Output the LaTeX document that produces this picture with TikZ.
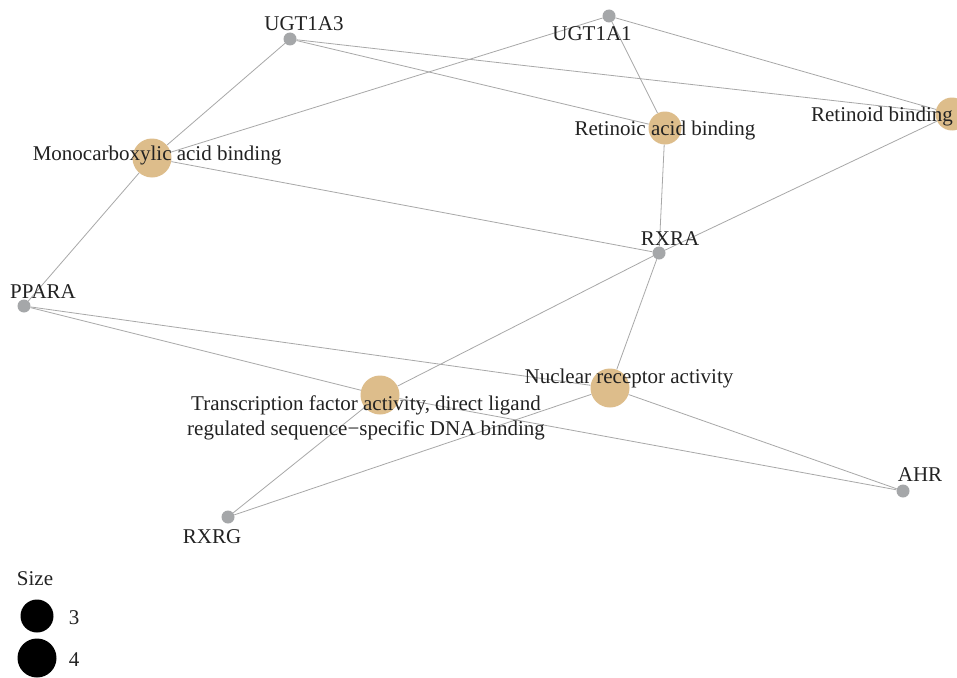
\documentclass[tikz,border=0pt]{standalone}
\usepackage{fontspec}
\setmainfont{Liberation Serif}
\definecolor{tan}{HTML}{DDBD8B}
\definecolor{dotgray}{HTML}{A5A7A9}
\definecolor{edgegray}{HTML}{A8A8A8}
\definecolor{txt}{HTML}{222222}
\begin{document}
\begin{tikzpicture}[x=1pt,y=-1pt,
  gene/.style={circle,fill=dotgray,inner sep=0pt,minimum size=13pt},
  term3/.style={circle,fill=tan,inner sep=0pt,minimum size=33pt},
  term4/.style={circle,fill=tan,inner sep=0pt,minimum size=39pt},
  lab/.style={text=txt,inner sep=0pt,font=\fontsize{21}{25}\selectfont,align=center},
  edge/.style={draw=edgegray,line width=0.8pt},
  legdot3/.style={circle,fill=black,inner sep=0pt,minimum size=33pt},
  legdot4/.style={circle,fill=black,inner sep=0pt,minimum size=39pt}]
\clip (0,0) rectangle (957,677);
\fill[white] (0,0) rectangle (957,677);
% nodes
\node[gene] (ugt3) at (290,39) {};
\node[gene] (ugt1) at (609,16) {};
\node[gene] (rxra) at (659,253) {};
\node[gene] (ppara) at (24,306) {};
\node[gene] (ahr) at (903,491) {};
\node[gene] (rxrg) at (228,517) {};
\node[term4] (mono) at (152,158) {};
\node[term3] (retac) at (665,128) {};
\node[term3] (retoid) at (952,114) {};
\node[term4] (tf) at (380,395) {};
\node[term4] (nuc) at (610,388) {};
% edges
\path[edge] (ugt3) -- (mono);
\path[edge] (ugt3) -- (retac);
\path[edge] (ugt3) -- (retoid);
\path[edge] (ugt1) -- (mono);
\path[edge] (ugt1) -- (retac);
\path[edge] (ugt1) -- (retoid);
\path[edge] (mono) -- (rxra);
\path[edge] (mono) -- (ppara);
\path[edge] (retac) -- (rxra);
\path[edge] (retoid) -- (rxra);
\path[edge] (rxra) -- (tf);
\path[edge] (rxra) -- (nuc);
\path[edge] (ppara) -- (nuc);
\path[edge] (ppara) -- (tf);
\path[edge] (tf) -- (ahr);
\path[edge] (tf) -- (rxrg);
\path[edge] (nuc) -- (ahr);
\path[edge] (nuc) -- (rxrg);
% labels
\node[lab] (lugt3) at (304,24) {UGT1A3};
\node[lab] (lugt1) at (592,34) {UGT1A1};
\node[lab] (lrxra) at (670,239) {RXRA};
\node[lab] (lppara) at (43,292) {PPARA};
\node[lab] (lahr) at (920,475) {AHR};
\node[lab] (lrxrg) at (212,537) {RXRG};
\node[lab] (lmono) at (157,155) {Monocarboxylic acid binding};
\node[lab] (lretac) at (665,130) {Retinoic acid binding};
\node[lab] (lretoid) at (882,116) {Retinoid binding};
\node[lab] (lnuc) at (629,378) {Nuclear receptor activity};
\node[lab,anchor=north] (ltf) at (366,396) {Transcription factor activity, direct ligand\\regulated sequence−specific DNA binding};
% legend
\node[lab] (lsize) at (35,579) {Size};
\node[legdot3] (leg3) at (37,616) {};
\node[legdot4] (leg4) at (37,658) {};
\node[lab] (l3) at (74,618) {3};
\node[lab] (l4) at (74,660) {4};
\end{tikzpicture}
\end{document}
